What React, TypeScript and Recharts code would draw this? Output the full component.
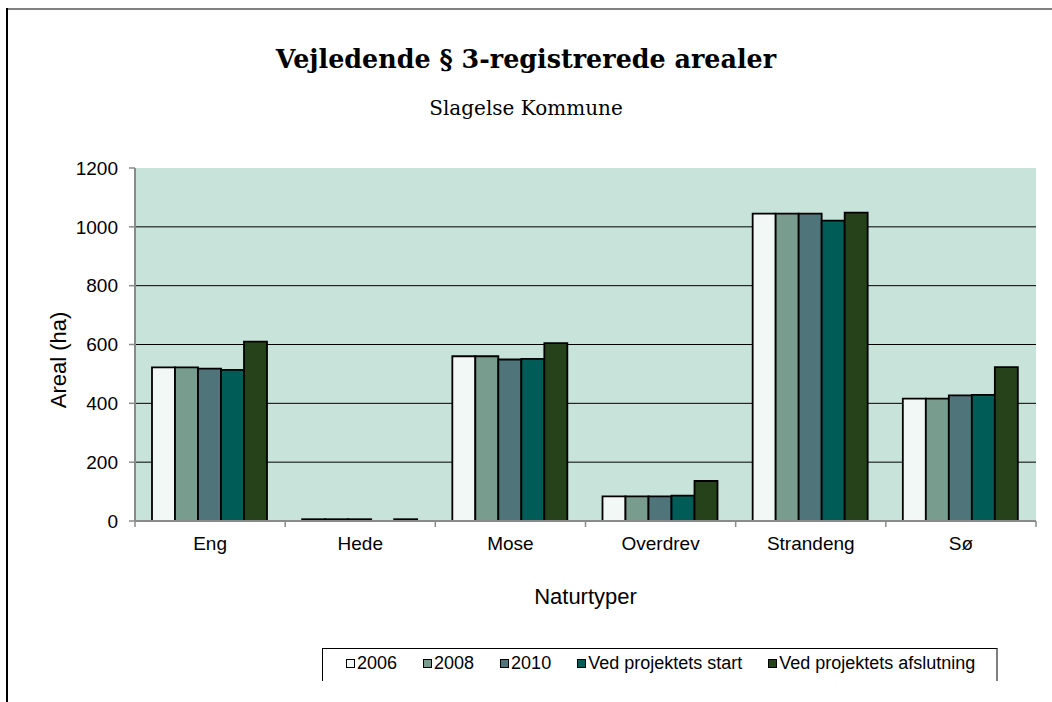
import {
  BarChart,
  Bar,
  XAxis,
  YAxis,
  CartesianGrid,
  Label,
} from "recharts";

const categories = ["Eng", "Hede", "Mose", "Overdrev", "Strandeng", "Sø"];
const v2006 = [522, 6, 560, 84, 1045, 416];
const v2008 = [522, 6, 560, 84, 1045, 416];
const v2010 = [518, 6, 549, 84, 1045, 427];
const vStart = [514, 0, 551, 86, 1021, 429];
const vSlut = [610, 6, 605, 136, 1048, 523];

const seriesKeys = ["s2006", "s2008", "s2010", "start", "slut"];
const seriesNames = ["2006", "2008", "2010", "Ved projektets start", "Ved projektets afslutning"];
const seriesColors = ["#F2F8F5", "#789C8E", "#4F757A", "#005C57", "#26421B"];
const yTicks = [0, 200, 400, 600, 800, 1000, 1200];

const data = categories.map((c, i) => ({
  name: c,
  s2006: v2006[i],
  s2008: v2008[i],
  s2010: v2010[i],
  start: vStart[i],
  slut: vSlut[i],
}));

const W = 1052;
const H = 702;
const PLOT_W = 1036 - 135;
const AXIS_GRAY = "#8a8a8a";
const SANS = "'Liberation Sans', Arial, sans-serif";
const SERIF = "'DejaVu Serif', Georgia, serif";

const XTick = (props: any) => {
  const { x, y, payload, index } = props;
  const band = PLOT_W / categories.length;
  const left = x - band / 2;
  return (
    <g>
      <line x1={left} x2={left} y1={y} y2={y + 6} stroke={AXIS_GRAY} strokeWidth={1.5} />
      {index === categories.length - 1 && (
        <line x1={left + band} x2={left + band} y1={y} y2={y + 6} stroke={AXIS_GRAY} strokeWidth={1.5} />
      )}
      <text x={x} y={y + 29} textAnchor="middle" fontFamily={SANS} fontSize={19} fill="#000">
        {payload.value}
      </text>
    </g>
  );
};

export default function App() {
  return (
    <div style={{ position: "absolute", left: 0, top: 0, width: W, height: H, background: "#fff" }}>
      {/* outer frame */}
      <div style={{ position: "absolute", left: 6, top: 8, width: W - 6, height: 0, borderTop: "2px solid #808080" }} />
      <div style={{ position: "absolute", left: 6, top: 8, width: 0, height: H - 8, borderLeft: "2px solid #000" }} />

      <div
        style={{
          position: "absolute",
          left: 0,
          width: W,
          top: 44,
          textAlign: "center",
          fontFamily: SERIF,
          fontWeight: "bold",
          fontSize: 25.4,
          color: "#000",
          whiteSpace: "nowrap",
        }}
      >
        Vejledende § 3-registrerede arealer
      </div>
      <div
        style={{
          position: "absolute",
          left: 0,
          width: W,
          top: 96,
          textAlign: "center",
          fontFamily: SERIF,
          fontSize: 20,
          color: "#000",
        }}
      >
        Slagelse Kommune
      </div>

      <div style={{ position: "absolute", left: 0, top: 0 }}>
        <BarChart
          width={W}
          height={H}
          data={data}
          margin={{ top: 168, right: 16, left: 0, bottom: 0 }}
          barCategoryGap={17}
          barGap={0}
        >
          <CartesianGrid
            vertical={false}
            horizontalValues={[200, 400, 600, 800, 1000]}
            stroke="#000"
            strokeWidth={1}
            fill="#C8E3DA"
            fillOpacity={1}
          />
          <XAxis
            dataKey="name"
            height={181}
            interval={0}
            tickSize={0}
            tickMargin={0}
            tickLine={false}
            tick={<XTick />}
            axisLine={{ stroke: AXIS_GRAY, strokeWidth: 2 }}
          >
            <Label
              content={({ viewBox }: any) => (
                <text
                  x={viewBox.x + viewBox.width / 2}
                  y={604}
                  textAnchor="middle"
                  fontFamily={SANS}
                  fontSize={22}
                  fill="#000"
                >
                  Naturtyper
                </text>
              )}
            />
          </XAxis>
          <XAxis
            xAxisId="top"
            dataKey="name"
            orientation="top"
            height={0}
            tick={false}
            tickLine={false}
            axisLine={{ stroke: AXIS_GRAY, strokeWidth: 2 }}
          />
          <YAxis
            width={135}
            domain={[0, 1200]}
            ticks={yTicks}
            interval={0}
            tickSize={6}
            tickMargin={11}
            tickLine={{ stroke: AXIS_GRAY, strokeWidth: 1.5 }}
            axisLine={{ stroke: AXIS_GRAY, strokeWidth: 2 }}
            tick={{ fontFamily: SANS, fontSize: 19, fill: "#000" }}
          >
            <Label
              content={() => (
                <text
                  x={58}
                  y={360}
                  transform="rotate(-90 58 360)"
                  textAnchor="middle"
                  dominantBaseline="central"
                  fontFamily={SANS}
                  fontSize={22}
                  fill="#000"
                >
                  Areal (ha)
                </text>
              )}
            />
          </YAxis>
          <YAxis
            yAxisId="right"
            orientation="right"
            width={0}
            domain={[0, 1200]}
            tick={false}
            tickLine={false}
            axisLine={{ stroke: AXIS_GRAY, strokeWidth: 2 }}
          />
          {seriesKeys.map((k, i) => (
            <Bar
              key={k}
              dataKey={k}
              name={seriesNames[i]}
              fill={seriesColors[i]}
              stroke="#000"
              strokeWidth={1.8}
              isAnimationActive={false}
            />
          ))}
        </BarChart>
      </div>

      {/* legend */}
      <div
        style={{
          position: "absolute",
          left: 322,
          top: 648,
          width: 998 - 322,
          height: 33,
          borderTop: "1.5px solid #000",
          borderLeft: "1.5px solid #000",
          borderRight: "2px solid #808080",
          boxSizing: "border-box",
          display: "flex",
          alignItems: "center",
          paddingLeft: 23,
          paddingBottom: 4,
          gap: 26,
          fontFamily: SANS,
          fontSize: 18,
          color: "#000",
          whiteSpace: "nowrap",
        }}
      >
        {seriesNames.map((n, i) => (
          <div key={n} style={{ display: "flex", alignItems: "center", gap: 2 }}>
            <span
              style={{
                display: "inline-block",
                width: 7,
                height: 7,
                border: "1.5px solid #000",
                background: seriesColors[i],
              }}
            />
            <span>{n}</span>
          </div>
        ))}
      </div>
    </div>
  );
}
